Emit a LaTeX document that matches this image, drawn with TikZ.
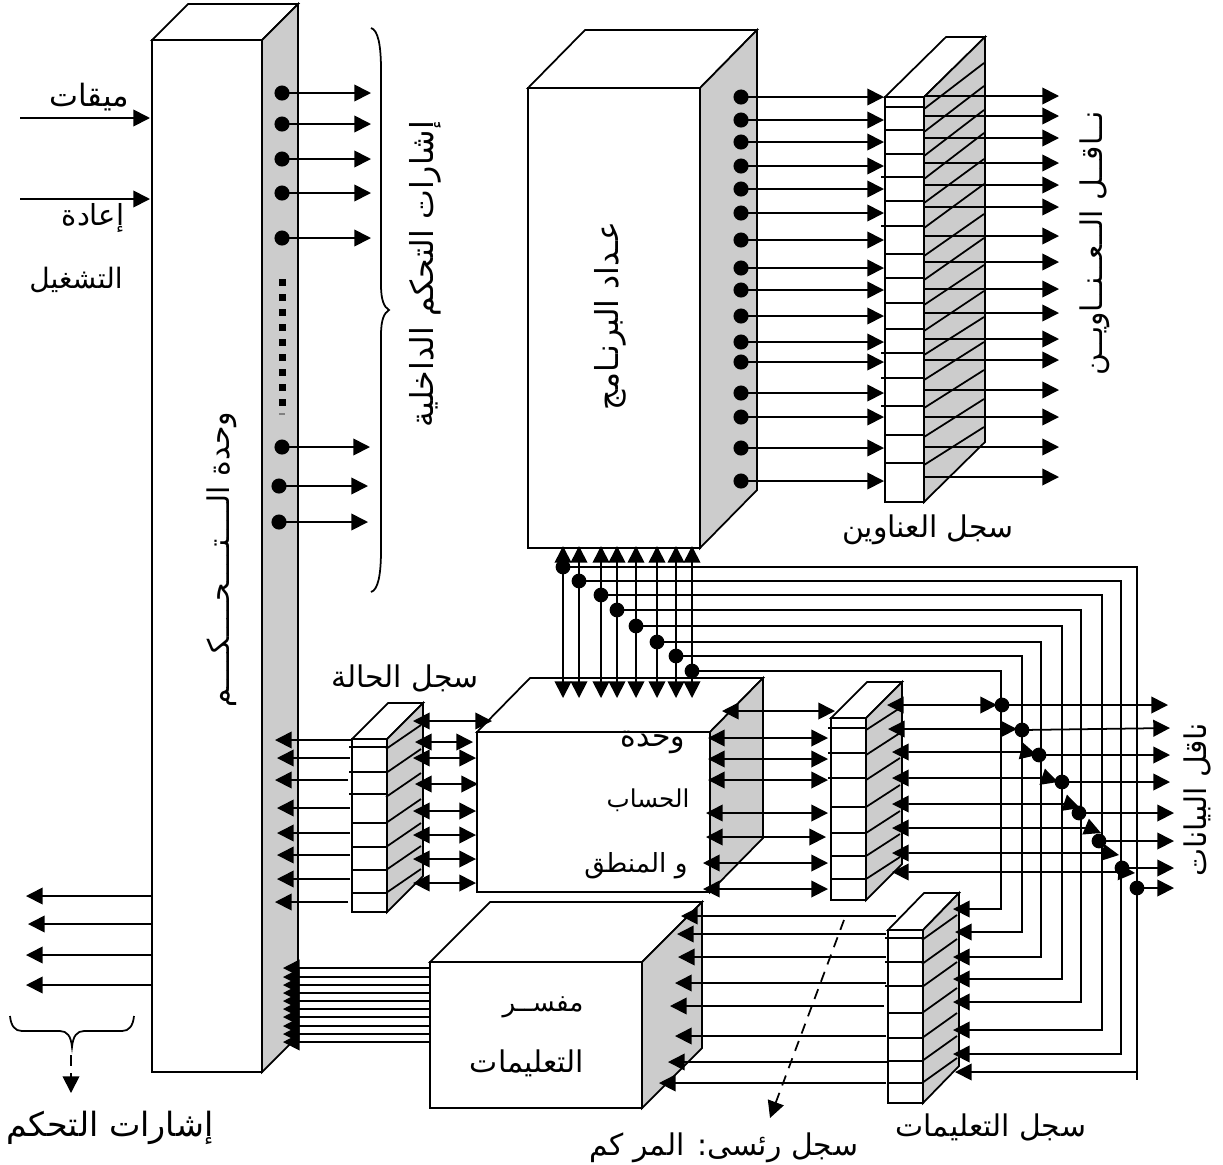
\documentclass[tikz,border=0pt]{standalone}
\usepackage{fontspec}
\usetikzlibrary{arrows.meta}
\newfontfamily\arabicfont[Script=Arabic]{DejaVu Sans}
\TeXXeTstate=1
\definecolor{sidegray}{HTML}{CCCCCC}
\newcommand{\ar}[1]{\beginR #1\endR}
% x1,y1,x2,y2,dx,dy
\newcommand{\solidbox}[6]{
  \draw[fill=white] (#1,#2) rectangle (#3,#4);
  \draw[fill=white] (#1,#2) -- (#1+#5,#2-#6) -- (#3+#5,#2-#6) -- (#3,#2) -- cycle;
  \draw[fill=sidegray] (#3,#2) -- (#3+#5,#2-#6) -- (#3+#5,#4-#6) -- (#3,#4) -- cycle;
}
\tikzset{
  >={Triangle[length=9.5pt,width=9.5pt]},
  every path/.style={line width=1pt},
  dashline/.style={dash pattern=on 6pt off 4.5pt},
  lbl/.style={font=\arabicfont\fontsize{#1}{#1}\selectfont, inner sep=0pt},
  lbl/.default=17
}
\begin{document}
\begin{tikzpicture}[x=0.02cm,y=-0.02cm]
\useasboundingbox (0,0) rectangle (1223,1164);
\solidbox{152}{40}{262}{1072}{36}{36}
\solidbox{528}{88}{700}{548}{57}{58}
\solidbox{885}{97}{924}{502}{61}{60}
\solidbox{477}{732}{710}{892}{53}{54}
\solidbox{352}{739}{387}{912}{36}{36}
\solidbox{831}{718}{866}{900}{36}{36}
\solidbox{430}{962}{642}{1108}{60}{60}
\solidbox{888}{930}{923}{1103}{36}{37}
% register cells
\foreach \y/\x in {107/885,130/885,154/885,177/881,201/885,226/881,254/885,278/885,303/885,329/885,353/881,378/881,406/881,435/885,463/885}
  \draw (\x,\y) -- (924,\y);
\foreach \y/\r in {107/46,130/46,154/46,177/46,201/44,226/44,254/42,278/42,303/40,329/40,353/38,378/38,406/38,435/38,463/38}
  \draw (924,\y+2) -- (984,\y+2-\r);
\foreach \y/\x in {747/349,772/349,794/349,823/352,847/352,870/352,893/352}
  \draw (\x,\y) -- (387,\y);
\foreach \y in {749,773,797,823,847,870,893}
  \draw (386,\y) -- (421,\y-24);
\foreach \y/\x in {728/828,753/828,778/828,807/831,833/831,856/831,879/831}
  \draw (\x,\y) -- (866,\y);
\foreach \y in {730,755,780,807,833,856,879}
  \draw (866,\y) -- (900,\y-22);
\foreach \y/\x in {938/885,962/885,986/885,1013/888,1038/888,1061/888,1083/888}
  \draw (\x,\y) -- (923,\y);
\foreach \y in {940,964,987,1013,1038,1061,1083}
  \draw (922,\y) -- (957,\y-25);
% control unit
\coordinate (clkin) at (20,118);
\coordinate (clkend) at (150,118);
\coordinate (rstin) at (20,199);
\coordinate (rstend) at (150,199);
\draw[->] (clkin) -- (clkend);
\draw[->] (rstin) -- (rstend);
\foreach \x/\y/\t [count=\i] in {282/93/371,282/124/371,282/159/371,282/193/371,282/238/371,282/447/370,279/486/368,279/522/368} {
  \coordinate (cdot\i) at (\x,\y);
  \coordinate (cend\i) at (\t,\y);
  \fill (cdot\i) circle (4.3pt);
  \draw[->] (cdot\i) -- (cend\i);
}
\foreach \y in {282,297,...,402}
  \fill (278.5,\y-3.5) rectangle (285.5,\y+3.5);
\draw[gray] (279,414) -- (285,414);
\draw (371,28) .. controls (378,30) and (381,45) .. (381,70) -- (381,285) .. controls (381,300) and (384,307) .. (389,310) .. controls (384,313) and (381,320) .. (381,335) -- (381,550) .. controls (381,575) and (378,590) .. (371,592);
\foreach \y/\t [count=\i] in {896/26,924/28,955/26,985/26} {
  \coordinate (cout\i) at (152,\y);
  \coordinate (coutend\i) at (\t,\y);
  \draw[->] (cout\i) -- (coutend\i);
}
\draw (10,1016) .. controls (11,1026) and (15,1031) .. (22,1031) -- (60,1031) .. controls (67,1031) and (71,1036) .. (72,1047) .. controls (73,1036) and (77,1031) .. (84,1031) -- (122,1031) .. controls (129,1031) and (133,1026) .. (134,1016);
\coordinate (ctlbrace) at (71,1055);
\coordinate (ctlend) at (71,1093);
\draw[->,dashline] (ctlbrace) -- (ctlend);
% program counter to address register
\foreach \y [count=\i] in {97,120,142,166,189,213,240,268,290,316,342,362,393,417,448,481} {
  \coordinate (pcdot\i) at (741,\y);
  \coordinate (arin\i) at (884,\y);
  \fill (pcdot\i) circle (4.3pt);
  \draw[->] (pcdot\i) -- (arin\i);
}
\foreach \y [count=\i] in {96,116,138,163,185,207,236,262,289,313,339,360,390,417,447,477} {
  \coordinate (arout\i) at (924,\y);
  \coordinate (arend\i) at (1059,\y);
  \draw[->] (arout\i) -- (arend\i);
}
% status register
\foreach \y/\s/\t [count=\i] in {740/352/275,758/350/277,780/348/275,808/350/277,833/350/277,855/350/277,879/350/277,902/348/275} {
  \coordinate (srout\i) at (\s,\y);
  \coordinate (srend\i) at (\t,\y);
  \draw[->] (srout\i) -- (srend\i);
}
\foreach \y/\s/\t [count=\i] in {721/413/492,742/415/473,758/413/476,784/415/478,811/413/476,835/413/476,859/413/476,883/413/476} {
  \coordinate (srl\i) at (\s,\y);
  \coordinate (srr\i) at (\t,\y);
  \draw[<->] (srl\i) -- (srr\i);
}
% alu and main register
\foreach \y/\s/\t [count=\i] in {711/722/835,738/708/828,759/708/828,780/708/828,813/706/828,837/706/826,863/703/828,889/703/828} {
  \coordinate (alul\i) at (\s,\y);
  \coordinate (alur\i) at (\t,\y);
  \draw[<->] (alul\i) -- (alur\i);
}
% decoder to control unit
\foreach \y [count=\i] in {968,977,985,993,1001,1009,1017,1026,1034,1042} {
  \coordinate (decout\i) at (430,\y);
  \coordinate (decend\i) at (283,\y);
  \draw[->] (decout\i) -- (decend\i);
}
% instruction register to decoder
\foreach \y/\s/\t [count=\i] in {916/896/681,934/886/677,957/886/678,983/886/675,1006/884/670,1036/886/675,1062/888/668,1083/886/659} {
  \coordinate (irout\i) at (\s,\y);
  \coordinate (irend\i) at (\t,\y);
  \draw[->] (irout\i) -- (irend\i);
}
% data lines from the counter
\foreach \x/\y/\v/\e/\t [count=\i] in {563/567/1137/1072/955,579/581/1121/1054/953,601/595/1102/1030/953,617/610/1081/1002/953,636/626/1062/979/953,657/642/1041/957/953,676/656/1022/932/955,692/671/1001/909/953} {
  \coordinate (jn\i) at (\x,\y);
  \coordinate (pcup\i) at (\x,546);
  \coordinate (aludn\i) at (\x,698);
  \coordinate (irin\i) at (\t,\e);
  \draw[<->] (pcup\i) -- (aludn\i);
  \draw[->] (jn\i) -- (\v,\y) -- (\v,\e) -- (irin\i);
  \fill (jn\i) circle (4.2pt);
}
\coordinate (busend) at (1137,1080);
\draw (1137,1072) -- (busend);
% main register to data bus
\foreach \s/\y/\b/\tx/\ty/\dx/\dy/\ox/\oy [count=\i] in {887/705/983/997/705/1002/705/1168/705,888/729/1003/1017/729/1022/730/1170/728,892/752/1025/1037/755/1039/755/1170/755,892/778/1046/1058/782/1062/782/1170/782,892/804/1068/1080/808/1079/813/1174/813,892/828/1089/1101/833/1099/841/1174/841,892/853/1107/1119/855/1122/868/1174/868,892/872/1122/1135/873/1137/888/1174/888} {
  \coordinate (busl\i) at (\s,\y);
  \coordinate (bust\i) at (\tx,\ty);
  \coordinate (busdot\i) at (\dx,\dy);
  \coordinate (busout\i) at (\ox,\oy);
  \draw[<->] (busl\i) -- (\b,\y) -- (bust\i);
  \fill (busdot\i) circle (4.2pt);
  \draw[->] (busdot\i) -- (busout\i);
}
\coordinate (mainreg) at (844,920);
\coordinate (mainend) at (770,1118);
\draw[->,dashline] (mainreg) -- (mainend);
% labels
\node[lbl=17.5] (clklbl) at (89,97) {\ar{ميقات}};
\node[lbl=16.5] (rstlbl) at (93,218) {\ar{إعادة}};
\node[lbl=16] (runlbl) at (76,280) {\ar{التشغيل}};
\node[lbl,rotate=90] (culbl) at (222,560) {\ar{وحدة الــــتــــحــــكــــم}};
\node[lbl=18,rotate=90] (siglbl) at (425,274) {\ar{إشارات التحكم الداخلية}};
\node[lbl=18,rotate=90] (pclbl) at (610,316) {\ar{عـداد البرنـامج}};
\node[lbl,rotate=90] (abuslbl) at (1095,243) {\ar{نــاقــل الــعــنــاويــن}};
\node[lbl,rotate=90] (dbuslbl) at (1197,800) {\ar{ناقل البيانات}};
\node[lbl] (arlbl) at (928,530) {\ar{سجل العناوين}};
\node[lbl] (srlbl) at (405,678) {\ar{سجل الحالة}};
\node[lbl] (alulbla) at (653,742) {\ar{وحدة}};
\node[lbl=14] (alulblb) at (648,800) {\ar{الحساب}};
\node[lbl=15] (alulblc) at (636,866) {\ar{و المنطق}};
\node[lbl=15] (declbla) at (543,1007) {\ar{مفســر}};
\node[lbl] (declblb) at (527,1063) {\ar{التعليمات}};
\node[lbl=19] (ctllbl) at (110,1128) {\ar{إشارات التحكم}};
\node[lbl] (irlbl) at (991,1127) {\ar{سجل التعليمات}};
\node[lbl] (mainlbl) at (724,1148) {\ar{سجل رئسى: المر كم}};
\end{tikzpicture}
\end{document}
